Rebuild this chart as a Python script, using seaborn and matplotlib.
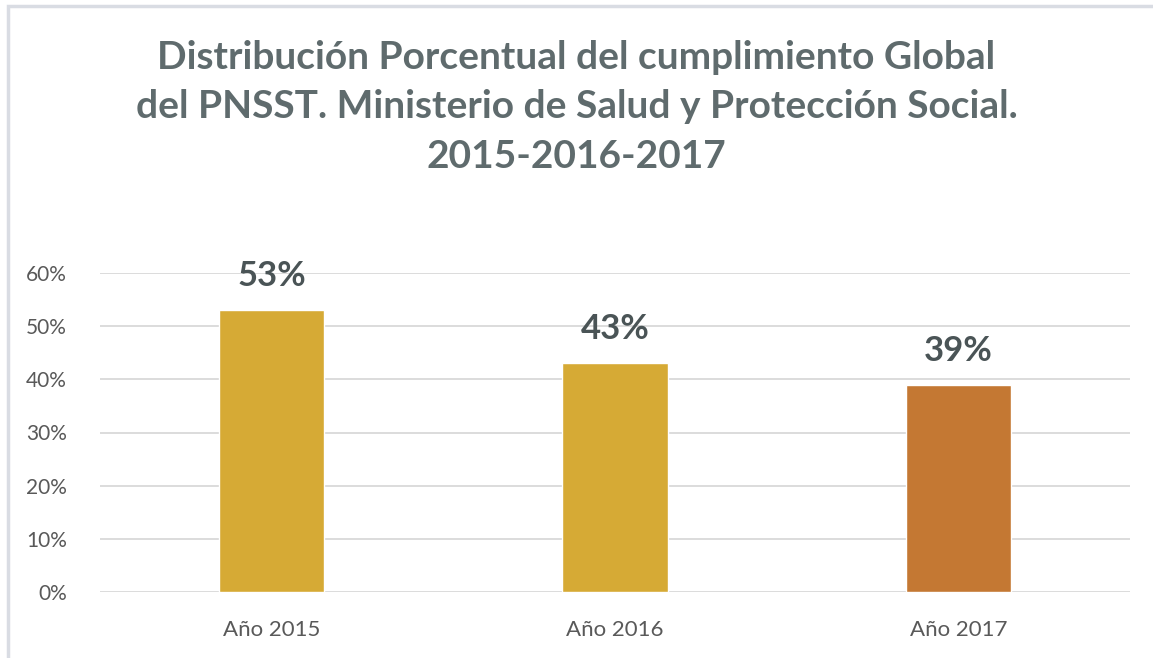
import matplotlib
matplotlib.use("Agg")
import matplotlib.pyplot as plt
import seaborn as sns
import pandas as pd
from matplotlib.patches import Rectangle
from matplotlib.ticker import PercentFormatter

categories = ["Año 2015", "Año 2016", "Año 2017"]
values = [0.53, 0.43, 0.39]
labels = ["53%", "43%", "39%"]
colors = ["#D6AA35", "#D6AA35", "#C47833"]
yticks = [0, 0.1, 0.2, 0.3, 0.4, 0.5, 0.6]
title = ("Distribución Porcentual del cumplimiento Global\n"
         "del PNSST. Ministerio de Salud y Protección Social.\n"
         "2015-2016-2017")

sns.set_theme(style="white")
plt.rcParams['font.family'] = ['Lato', 'DejaVu Sans']

df = pd.DataFrame({"cat": categories, "val": values})

fig = plt.figure(figsize=(11.53, 6.58), dpi=100)
ax = fig.add_axes([100/1153, 1-592/658, 1030/1153, (592-273)/658])

sns.barplot(data=df, x="cat", y="val", hue="cat", palette=colors,
            width=0.306, legend=False, ax=ax, saturation=1)

ax.set_ylim(0, 0.6)
ax.set_xlim(-0.5, 2.5)
ax.set_yticks(yticks)
ax.yaxis.set_major_formatter(PercentFormatter(1.0, decimals=0))
ax.grid(axis="y", color="#D9D9D9", linewidth=1.3)
ax.set_axisbelow(True)
for s in ax.spines.values():
    s.set_visible(False)
ax.set_xlabel("")
ax.set_ylabel("")
ax.tick_params(axis="y", length=0, pad=24, labelsize=15, labelcolor="#595959")
ax.tick_params(axis="x", length=0, pad=20, labelsize=16, labelcolor="#595959")

for i, (v, lab) in enumerate(zip(values, labels)):
    ax.text(i, v + 0.045, lab, ha="center", va="baseline", fontsize=25,
            fontweight="bold", color="#4A5456", clip_on=False)

fig.text(0.5, 1 - 107/658, title, ha="center", va="center", fontsize=28,
         fontweight="bold", color="#5F6B6D", linespacing=1.5)

fig.patches.append(Rectangle((8/1153, -0.05), 1.1, 1 - 6/658 + 0.05,
                             transform=fig.transFigure, fill=False,
                             edgecolor="#D9DCE3", linewidth=2.5))

fig.savefig("out.png", dpi=100)
